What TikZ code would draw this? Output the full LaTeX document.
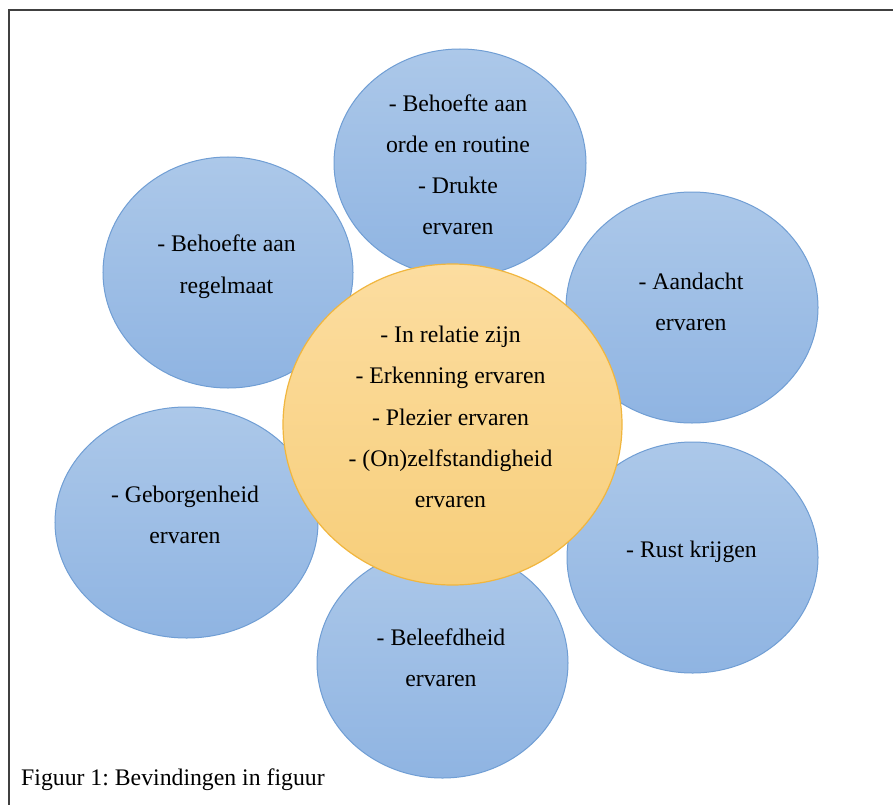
\documentclass[tikz,border=0pt]{standalone}
\usepackage{fontspec}
\setmainfont{Liberation Serif}
\frenchspacing
\usetikzlibrary{shapes.geometric}
\definecolor{bluetop}{RGB}{172,200,233}
\definecolor{bluebot}{RGB}{143,180,226}
\definecolor{blueline}{RGB}{112,158,212}
\definecolor{yeltop}{RGB}{252,221,160}
\definecolor{yelbot}{RGB}{247,206,122}
\definecolor{yelline}{RGB}{241,182,62}
\definecolor{framegray}{RGB}{64,64,64}
\tikzset{
  bubble/.style={ellipse, draw=blueline, line width=1bp, top color=bluetop, bottom color=bluebot, inner sep=0pt},
  core/.style={ellipse, draw=yelline, line width=1.2bp, top color=yeltop, bottom color=yelbot, inner sep=0pt},
  lbl/.style={align=center, font=\fontsize{23.84}{41.4}\selectfont, inner sep=0pt},
}
\begin{document}
\begin{tikzpicture}[x=1bp,y=-1bp]
\useasboundingbox (0,0) rectangle (893,805);
\fill[white] (0,0) rectangle (893,805);
% frame (only top and left sides visible)
\coordinate (fl) at (9,805);
\coordinate (fr) at (893,10);
\draw[framegray, line width=1.8bp] (fl) |- (fr);
% blue bubbles
\node[bubble, minimum width=252bp, minimum height=228bp] (ctop) at (460,163) {};
\node[bubble, minimum width=250bp, minimum height=231bp] (cul) at (228,272.5) {};
\node[bubble, minimum width=252bp, minimum height=231bp] (cur) at (692,307.5) {};
\node[bubble, minimum width=263bp, minimum height=231bp] (cll) at (186.5,522.5) {};
\node[bubble, minimum width=251bp, minimum height=231bp] (clr) at (692.5,557.5) {};
\node[bubble, minimum width=251bp, minimum height=230bp] (cbot) at (442.5,663) {};
% central circle
\node[core, minimum width=339bp, minimum height=321bp] (ccore) at (452.5,424.5) {};
% texts
\node[lbl] (ttop) at (458,164.8) {- Behoefte aan\\orde en routine\\- Drukte\\ervaren};
\node[lbl] (tul) at (226.5,266.6) {- Behoefte aan\\regelmaat};
\node[lbl] (tur) at (691,301.8) {- Aandacht\\ervaren};
\node[lbl] (tll) at (185,514.8) {- Geborgenheid\\ervaren};
\node[lbl] (tlr) at (691.5,551.8) {- Rust krijgen};
\node[lbl] (tbot) at (441,657.5) {- Beleefdheid\\ervaren};
\node[lbl] (tcore) at (450.5,417.1) {- In relatie zijn\\- Erkenning ervaren\\- Plezier ervaren\\- (On)zelfstandigheid\\ervaren};
% caption
\node[lbl, anchor=base west] (cap) at (21,785.5) {Figuur 1: Bevindingen in figuur};
\end{tikzpicture}
\end{document}
